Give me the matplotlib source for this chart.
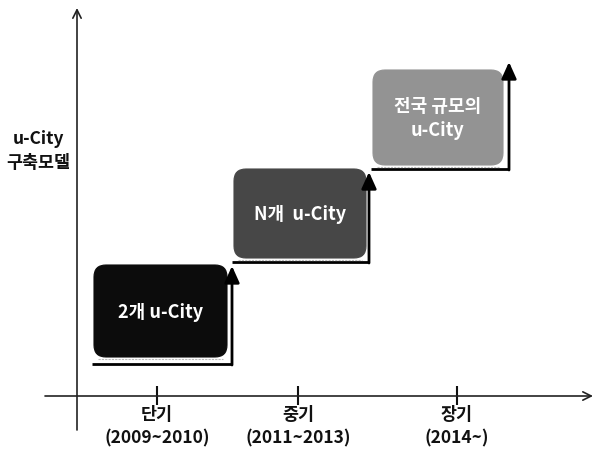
import matplotlib
matplotlib.use("Agg")
import matplotlib.pyplot as plt
from matplotlib.patches import FancyBboxPatch

plt.rcParams['font.family'] = ['Noto Sans CJK KR', 'DejaVu Sans']

# Roadmap content
stages = ["단기", "중기", "장기"]
periods = ["(2009~2010)", "(2011~2013)", "(2014~)"]
models = ["2개 u-City", "N개  u-City", "전국 규모의\nu-City"]
y_title = "u-City\n구축모델"
box_colors = ["#0c0c0c", "#474747", "#939393"]

# Layout (canvas units = pixels, y pointing down)
W, H = 595, 461
tick_x = [157, 298, 457]
axis_y, axis_x = 396, 77
boxes = [  # left, top, right, bottom
    (94, 265, 227, 357),
    (234, 169, 366, 258),
    (373, 70, 503, 165),
]
arrow_x = [232, 369, 509]
arrow_base = [364, 262, 169]
arrow_tip = [266, 172, 62]

fig = plt.figure(figsize=(W / 100, H / 100), dpi=100)
ax = fig.add_axes([0, 0, 1, 1])
ax.set_xlim(0, W)
ax.set_ylim(H, 0)
ax.axis("off")

# Axes with open arrowheads
ax.annotate("", xy=(axis_x, 8), xytext=(axis_x, 430),
            arrowprops=dict(arrowstyle="->,head_length=0.6,head_width=0.3",
                            lw=1.2, color="#222222", shrinkA=0, shrinkB=0))
ax.annotate("", xy=(593, axis_y), xytext=(45, axis_y),
            arrowprops=dict(arrowstyle="->,head_length=0.6,head_width=0.3",
                            lw=1.2, color="#222222", shrinkA=0, shrinkB=0))

# Stage ticks and labels
for x, s, p in zip(tick_x, stages, periods):
    ax.plot([x, x], [386, 405], color="#111111", lw=1.5, solid_capstyle="butt")
    ax.text(x, 415, s, ha="center", va="center", fontsize=12.5,
            fontweight="bold", color="#111111")
    ax.text(x, 438, p, ha="center", va="center", fontsize=12.5,
            fontweight="bold", color="#111111")

ax.text(38, 151, y_title, ha="center", va="center", fontsize=12.5,
        fontweight="bold", color="#111111", linespacing=1.45)

# Stepped model boxes with L-shaped growth arrows
for (l, t, r, b), c, label, ax_x, base, tip in zip(
        boxes, box_colors, models, arrow_x, arrow_base, arrow_tip):
    ax.plot([l - 2, ax_x], [base, base], color="black", lw=2.0,
            solid_capstyle="butt")
    ax.annotate("", xy=(ax_x, tip), xytext=(ax_x, base + 1),
                arrowprops=dict(arrowstyle="-|>,head_length=1.0,head_width=0.45",
                                lw=2.0, color="black", shrinkA=0, shrinkB=0))
    ax.plot([l + 4, r - 4], [b + 2, b + 2], color="#bbbbbb", lw=0.8,
            ls=(0, (2, 1)))
    box = FancyBboxPatch((l, t), r - l, b - t,
                         boxstyle="round,pad=0,rounding_size=12",
                         facecolor=c, edgecolor=c, lw=0.8)
    ax.add_patch(box)
    ax.text((l + r) / 2, (t + b) / 2 + 1, label, ha="center", va="center",
            fontsize=13, fontweight="bold", color="white", linespacing=1.35)

fig.savefig("out.png", dpi=100)
